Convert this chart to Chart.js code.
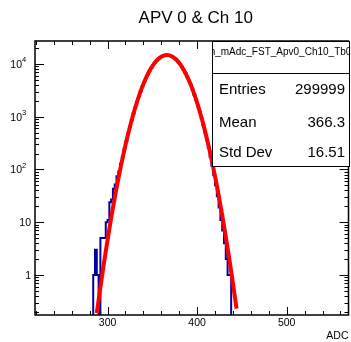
<!DOCTYPE html>
<html>
<head>
<meta charset="utf-8">
<script src="https://cdn.jsdelivr.net/npm/chart.js@4.4.1/dist/chart.umd.min.js"></script>
<style>
  html, body { margin: 0; padding: 0; background: #fff; }
</style>
</head>
<body>
<canvas id="c" width="351" height="342"></canvas>
<script>
// histogram h_mAdc_FST_Apv0_Ch10_Tb0, bins of 2 ADC starting at binLow
const binLow = 282;
const binWidth = 2;
const counts = [
  0, 1, 3, 1, 0, 5, 5, 5, 10, 11,
  24, 27, 43, 52, 74, 92, 128, 176, 250, 345,
  475, 645, 865, 1150, 1500, 1930, 2440, 3050, 3760, 4560,
  5450, 6420, 7460, 8530, 9620, 10680, 11690, 12610, 13400, 14040,
  14490, 14740, 14780, 14600, 14200, 13620, 12870, 11990, 11000, 9950,
  8860, 7780, 6730, 5740, 4820, 3990, 3250, 2610, 2070, 1610,
  1240, 940, 700, 510, 365, 255, 175, 118, 78, 50,
  31, 19, 11, 7, 4, 2, 1, 1, 0, 0
];

// gaussian fit, sampled
const fitX = [288, 292, 296, 300, 304, 308, 312, 316, 320, 324, 328, 332, 336, 340,
  344, 348, 352, 356, 360, 364, 368, 372, 376, 380, 384, 388, 392, 396, 400,
  404, 408, 412, 416, 420, 424, 428, 432, 436, 440, 444];
const fitY = [0.19, 0.58, 1.69, 4.6, 11.9, 28.8, 65.9, 142, 289, 553, 1000, 1705, 2741, 4155,
  5938, 8001, 10166, 12179, 13760, 14657, 14722, 13943, 12452, 10484, 8325, 6232, 4400, 2929, 1838,
  1088, 607, 320, 158, 74.2, 32.7, 13.6, 5.3, 1.97, 0.69, 0.23];

// axes
const xTicks = [220, 240, 260, 280, 300, 320, 340, 360, 380, 400, 420, 440, 460, 480, 500, 520, 540, 560];
const xLabels = { 300: '300', 400: '400', 500: '500' };
const yDecades = [0.1, 1, 10, 100, 1000, 10000];
// [value, base, exponent]
const yLabels = [[1, '1', ''], [10, '10', ''], [100, '10', '2'], [1000, '10', '3'], [10000, '10', '4']];

const statsTitle = 'h_mAdc_FST_Apv0_Ch10_Tb0';
const statsRows = [['Entries', '299999'], ['Mean', '366.3'], ['Std Dev', '16.51']];

const FONT = '"Liberation Sans", Arial, Helvetica, sans-serif';

const yTicks = [];
yDecades.forEach(d => {
  for (let m = 1; m <= 9; m++) yTicks.push(+(d * m).toPrecision(3));
});
const isDecade = v => yDecades.indexOf(v) >= 0;

const histData = counts.map((c, i) => ({ x: binLow + i * binWidth, y: c > 0 ? c : 1e-3 }));
const fitData = fitX.map((x, i) => ({ x: x, y: fitY[i] }));

const rootFrame = {
  id: 'rootFrame',
  afterDatasetsDraw(chart) {
    const ctx = chart.ctx, a = chart.chartArea;
    const xs = chart.scales.x, ys = chart.scales.y;
    ctx.save();
    ctx.strokeStyle = '#000';

    // ticks pointing inward, all four sides
    ctx.lineWidth = 1;
    ctx.beginPath();
    xTicks.forEach(v => {
      const px = Math.round(xs.getPixelForValue(v)) + 0.5;
      const len = v % 100 === 0 ? 8 : 4;
      ctx.moveTo(px, a.bottom); ctx.lineTo(px, a.bottom - len);
      ctx.moveTo(px, a.top); ctx.lineTo(px, a.top + len);
    });
    yTicks.forEach(v => {
      if (v < ys.min || v > ys.max) return;
      const py = Math.round(ys.getPixelForValue(v)) + 0.5;
      const len = isDecade(v) ? 9 : 4;
      ctx.moveTo(a.left, py); ctx.lineTo(a.left + len, py);
      ctx.moveTo(a.right, py); ctx.lineTo(a.right - len, py);
    });
    ctx.stroke();

    ctx.lineWidth = 1.5;
    ctx.strokeRect(a.left, a.top, a.right - a.left, a.bottom - a.top);

    // y labels with raised exponents
    ctx.fillStyle = '#000';
    ctx.textBaseline = 'middle';
    yLabels.forEach(l => {
      const py = ys.getPixelForValue(l[0]) + 1;
      if (l[2]) {
        ctx.font = '10.5px ' + FONT;
        ctx.textAlign = 'right';
        ctx.fillText(l[1], a.left - 13, py);
        ctx.font = '7.5px ' + FONT;
        ctx.textAlign = 'left';
        ctx.fillText(l[2], a.left - 13, py - 5);
      } else {
        ctx.font = '10.5px ' + FONT;
        ctx.textAlign = 'right';
        ctx.fillText(l[1], a.left - 4, py);
      }
    });

    // stats box
    const bl = a.right - 136.5, br = a.right + 1.5, bt = a.top, bb = a.top + 126;
    ctx.fillStyle = '#fff';
    ctx.fillRect(bl, bt, br - bl, bb - bt);
    ctx.lineWidth = 1;
    ctx.strokeRect(bl + 0.5, bt + 0.5, br - bl - 1, bb - bt - 1);
    ctx.beginPath();
    ctx.moveTo(bl, bt + 32.5); ctx.lineTo(br, bt + 32.5);
    ctx.stroke();

    ctx.fillStyle = '#000';
    ctx.save();
    ctx.beginPath();
    ctx.rect(bl + 1, bt, br - bl - 1, 32);
    ctx.clip();
    ctx.font = '10px ' + FONT;
    ctx.textAlign = 'center';
    ctx.fillText(statsTitle, (bl + br) / 2 - 0.5, bt + 11);
    ctx.restore();

    ctx.font = '15px ' + FONT;
    const rowY = [49, 82, 112];
    statsRows.forEach((r, i) => {
      ctx.textAlign = 'left';
      ctx.fillText(r[0], bl + 7, bt + rowY[i]);
      ctx.textAlign = 'right';
      ctx.fillText(r[1], br - 5, bt + rowY[i]);
    });

    // title and axis title
    ctx.font = '17px ' + FONT;
    ctx.textAlign = 'center';
    ctx.fillText('APV 0 & Ch 10', (a.left + a.right) / 2 + 4, 18);
    ctx.font = '10.5px ' + FONT;
    ctx.textAlign = 'right';
    ctx.fillText('ADC', a.right, 336);
    ctx.restore();
  }
};

new Chart(document.getElementById('c'), {
  type: 'line',
  data: {
    datasets: [
      {
        label: 'fit',
        data: fitData,
        borderColor: '#ff0000',
        borderWidth: 4,
        pointRadius: 0,
        tension: 0.3,
        clip: 0,
        order: 0
      },
      {
        label: 'hist',
        data: histData,
        borderColor: '#0000a0',
        borderWidth: 2,
        pointRadius: 0,
        stepped: 'before',
        clip: 0,
        order: 1
      }
    ]
  },
  options: {
    responsive: false,
    animation: false,
    devicePixelRatio: 1,
    layout: { padding: { top: 41, right: 2.5, left: 0, bottom: 0 } },
    plugins: { legend: { display: false }, tooltip: { enabled: false }, title: { display: false } },
    scales: {
      x: {
        type: 'linear',
        min: 219,
        max: 569,
        afterBuildTicks: s => { s.ticks = xTicks.map(v => ({ value: v })); },
        afterFit: s => { s.height = 27; },
        grid: { display: false, drawTicks: false },
        border: { display: false },
        ticks: {
          autoSkip: false,
          maxRotation: 0,
          padding: 2,
          color: '#000',
          font: { family: FONT, size: 10.5 },
          callback: v => xLabels[v] || ''
        }
      },
      y: {
        type: 'logarithmic',
        min: 0.174,
        max: 27300,
        afterBuildTicks: s => { s.ticks = yLabels.map(l => ({ value: l[0] })); },
        afterFit: s => { s.width = 35; },
        grid: { display: false, drawTicks: false },
        border: { display: false },
        ticks: { display: false }
      }
    }
  },
  plugins: [rootFrame]
});
</script>
</body>
</html>
